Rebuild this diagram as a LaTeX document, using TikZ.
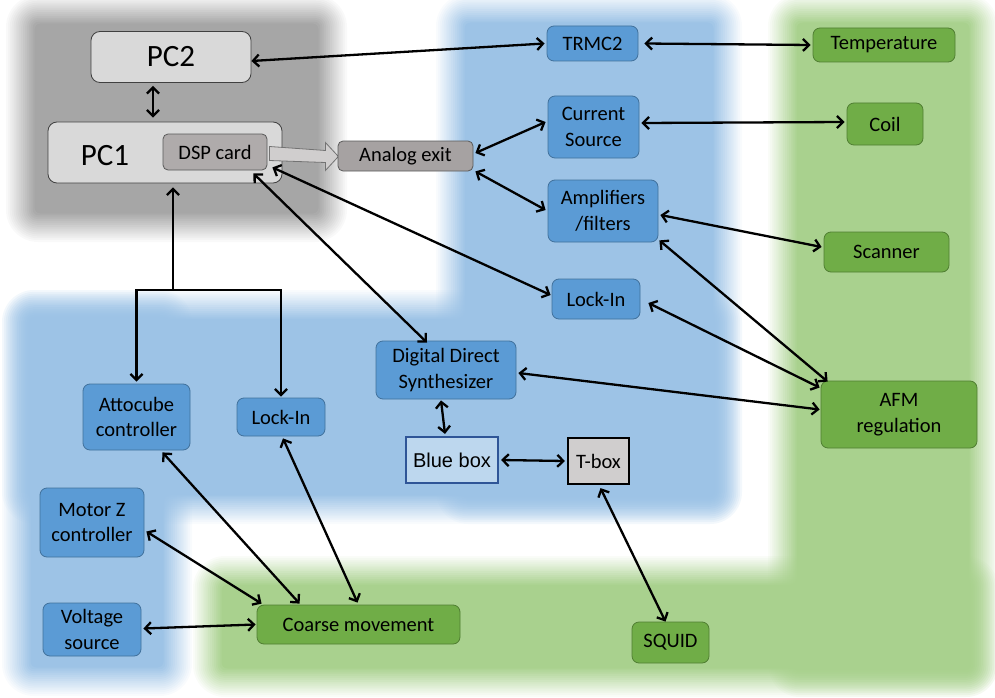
\documentclass[tikz,border=0pt]{standalone}
\usepackage{fontspec}
\setmainfont{Carlito}
\newfontfamily\arialf{Liberation Sans}
\usetikzlibrary{arrows.meta,calc}
\definecolor{bgblue}{HTML}{9DC3E6}
\definecolor{bggreen}{HTML}{A9D18E}
\definecolor{bggray}{HTML}{A6A6A6}
\definecolor{nblue}{HTML}{5B9BD5}
\definecolor{nbluedark}{HTML}{41719C}
\definecolor{ngreen}{HTML}{70AD47}
\definecolor{ngreendark}{HTML}{507E32}
\definecolor{pcgray}{HTML}{D9D9D9}
\definecolor{dspgray}{HTML}{AFABAB}
\definecolor{lightblue}{HTML}{BDD7EE}
\definecolor{boxblue}{HTML}{2F5597}
\definecolor{tgray}{HTML}{D0CECE}
\newcommand\softrect[5]{%
  \foreach \k in {1,...,16}{%
    \pgfmathsetmacro\ins{(\k-1)*1.9}%
    \pgfmathsetmacro\op{1/(17-\k)}%
    \pgfmathsetmacro\rc{max(32-\ins,6)}%
    \fill[#1, fill opacity=\op, rounded corners=\rc pt] ({#2+\ins},{#3+\ins}) rectangle ({#4-\ins},{#5-\ins});
  }%
}
\tikzset{
  txt/.style={font=\fontsize{20.5}{25.5}\selectfont, align=center, inner sep=0pt},
  bnode/.style={txt, draw=nbluedark, fill=nblue, rounded corners=7pt, line width=0.8pt},
  gnode/.style={txt, draw=ngreendark, fill=ngreen, rounded corners=7pt, line width=0.8pt},
  pcbox/.style={txt, draw=black!75, fill=pcgray, rounded corners=9pt, line width=0.8pt},
  graybox/.style={txt, draw=black!65, fill=dspgray, rounded corners=5pt, line width=0.8pt},
  tip/.tip={Straight Barb[length=6pt,width=12pt]},
  conn/.style={line width=2.3pt, tip-tip},
  conn1/.style={line width=2.3pt, -tip},
}
\begin{document}
\begin{tikzpicture}[x=1pt,y=-1pt]
\useasboundingbox (0,0) rectangle (995,698);
\clip (0,0) rectangle (995,698);
% backgrounds
\softrect{bggray}{6}{-5}{347}{242}
\softrect{bggreen}{768}{-6}{998}{697}
\softrect{bggreen}{193}{556}{998}{697}
\softrect{bgblue}{436}{-6}{742}{524}
\softrect{bgblue}{2}{290}{742}{524}
\softrect{bgblue}{2}{290}{192}{696}

% nodes
\node[pcbox, minimum width=160pt, minimum height=51pt, font=\fontsize{31}{36}\selectfont] (pc2) at (171,57) {PC2};
\node[pcbox, minimum width=234pt, minimum height=61pt] (pc1) at (165,152.5) {};
\node[txt, font=\fontsize{31}{36}\selectfont] (pc1t) at (105,156) {PC1};
\fill[tgray, draw=black!55, line width=0.8pt] ($(pc1.east)+(-13,-6)$) coordinate (fa1)
  -- ($(pc1.east)+(43,-2)$) -- ($(pc1.east)+(43,-10)$) -- ($(pc1.east)+(56,4)$)
  -- ($(pc1.east)+(43,18)$) -- ($(pc1.east)+(43,10)$) -- ($(pc1.east)+(-13,8)$) -- cycle;
\node[graybox, minimum width=104pt, minimum height=36pt] (dsp) at (215,152) {DSP card};
\node[graybox, fill=dspgray!95!black, minimum width=135pt, minimum height=30pt] (analog) at (405.5,156) {Analog exit};

\node[bnode, minimum width=91pt, minimum height=35pt] (trmc) at (592.5,43.5) {TRMC2};
\node[gnode, minimum width=142pt, minimum height=34pt] (temp) at (884,45) {Temperature};
\node[bnode, minimum width=91pt, minimum height=62pt] (cs) at (593.5,127) {Current\\Source};
\node[gnode, minimum width=76pt, minimum height=42pt] (coil) at (885,124) {Coil};
\node[bnode, minimum width=110pt, minimum height=62pt] (amp) at (603,211) {Amplifiers\\/filters};
\node[gnode, minimum width=125pt, minimum height=40pt] (scanner) at (886.5,252) {Scanner};
\node[bnode, minimum width=88pt, minimum height=40pt] (lockr) at (596,299) {Lock-In};
\node[bnode, minimum width=140pt, minimum height=58pt] (dds) at (446,370) {Digital Direct\\Synthesizer};
\node[gnode, minimum width=156pt, minimum height=67pt] (afm) at (899,414.5) {AFM\\regulation};
\node[txt, draw=boxblue, fill=lightblue, line width=2.2pt, minimum width=92pt, minimum height=46pt, font=\arialf\fontsize{20}{24}\selectfont] (bluebox) at (452,460) {Blue box};
\node[txt, draw=black, fill=tgray, line width=2.2pt, minimum width=61pt, minimum height=46pt] (tbox) at (598.5,461) {T-box};
\node[gnode, minimum width=77pt, minimum height=41pt] (squid) at (670.5,642.5) {SQUID};
\node[bnode, minimum width=107pt, minimum height=66pt] (atto) at (136.5,417) {Attocube\\controller};
\node[bnode, minimum width=88pt, minimum height=38pt] (lockl) at (281,417) {Lock-In};
\node[bnode, minimum width=104pt, minimum height=69pt] (motorz) at (92,522.5) {Motor Z\\controller};
\node[bnode, minimum width=98pt, minimum height=53pt] (voltage) at (92,629.5) {Voltage\\source};
\node[gnode, minimum width=203pt, minimum height=39pt] (coarse) at (358.5,624.5) {Coarse movement};

% connectors
\draw[conn] ([yshift=-4pt]pc2.east) -- ([xshift=-2pt]trmc.west);
\draw[conn] ([xshift=6pt]trmc.east) -- ([xshift=-2pt]temp.west);
\draw[conn] ([xshift=-18pt,yshift=-3pt]pc2.south) -- ([xshift=-12pt,yshift=4pt]pc1.north);
\draw[conn] ([xshift=2pt,yshift=4pt]cs.east) -- ([xshift=-2pt,yshift=2pt]coil.west);
\draw[conn] ([xshift=2pt,yshift=3pt]analog.east) -- ([xshift=-2pt,yshift=5pt]cs.west);
\draw[conn] ([xshift=2pt]analog.south east) -- ([xshift=-2pt,yshift=1pt]amp.west);
\draw[conn] ([xshift=2pt,yshift=-4pt]amp.east) -- ([xshift=-2pt,yshift=5pt]scanner.west);
\draw[conn] ([xshift=1pt,yshift=2pt]amp.south east) -- ([xshift=7pt,yshift=-1pt]afm.north west);
\draw[conn] ([xshift=8pt,yshift=-4pt]lockr.east) -- ([xshift=-1pt,yshift=-7pt]afm.north west);
\draw[conn] ([xshift=2pt,yshift=-3pt]dds.east) -- ([xshift=-1pt,yshift=5pt]afm.west);
\draw[conn] ([xshift=5pt,yshift=3pt]dsp.south east) -- ([xshift=-1pt,yshift=4pt]lockr.west);
\draw[conn] ([xshift=-14pt,yshift=-3pt]dsp.south east) -- ([xshift=-19pt,yshift=-2pt]dds.north);
\draw[conn] ([xshift=-5pt,yshift=-1pt]dds.south) -- ([xshift=-7pt,yshift=2pt]bluebox.north);
\draw[conn] ([xshift=2pt]bluebox.east) -- ([xshift=-2pt]tbox.west);
\draw[conn] ([xshift=2pt,yshift=-3pt]tbox.south) -- ([xshift=-5pt]squid.north);
\coordinate (j) at (173,290);
\draw[conn1] (j) -- ([xshift=8pt,yshift=-4pt]pc1.south);
\draw[conn, line join=miter] ([yshift=2pt]atto.north) -- (atto.north |- j) -- (lockl.north |- j) -- ([yshift=1pt]lockl.north);
\draw[conn] ([xshift=26pt,yshift=-2pt]atto.south) -- ([xshift=43pt,yshift=1pt]coarse.north west);
\draw[conn] ([xshift=2pt,yshift=-2pt]lockl.south) -- ([xshift=-1pt,yshift=2pt]coarse.north);
\draw[conn] ([xshift=2pt,yshift=-9pt]motorz.east) -- ([xshift=5pt,yshift=1pt]coarse.north west);
\draw[conn] ([xshift=2pt,yshift=1pt]voltage.east) -- ([xshift=-1pt]coarse.west);
\end{tikzpicture}
\end{document}
